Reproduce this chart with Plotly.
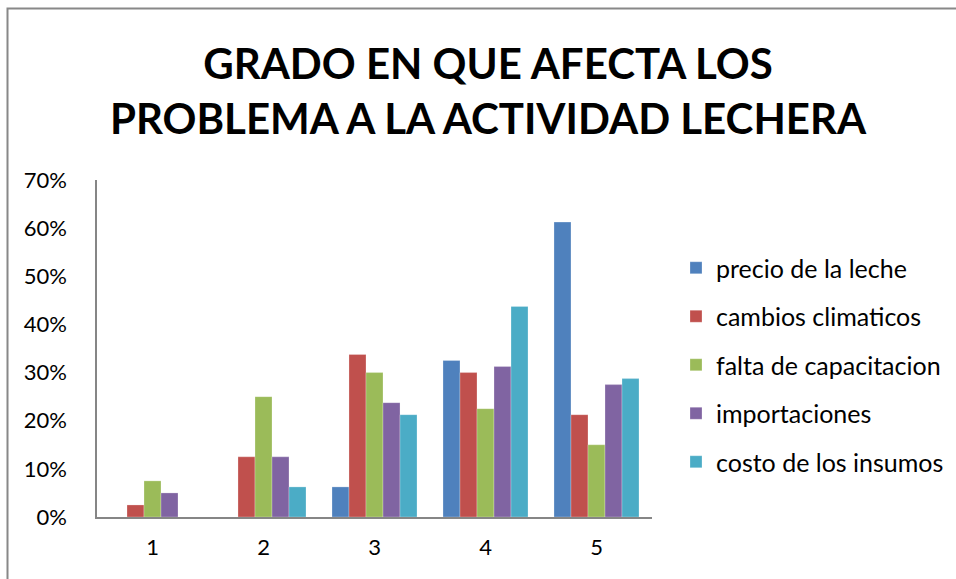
import plotly.graph_objects as go

categories = ["1", "2", "3", "4", "5"]
series_names = ["precio de la leche", "cambios climaticos", "falta de capacitacion",
                "importaciones", "costo de los insumos"]
precio_de_la_leche = [0.0, 0.0, 0.0625, 0.325, 0.6125]
cambios_climaticos = [0.025, 0.125, 0.3375, 0.30, 0.2125]
falta_de_capacitacion = [0.075, 0.25, 0.30, 0.225, 0.15]
importaciones = [0.05, 0.125, 0.2375, 0.3125, 0.275]
costo_de_los_insumos = [0.0, 0.0625, 0.2125, 0.4375, 0.2875]
colors = ["#4F81BD", "#C0504D", "#9BBB59", "#8064A2", "#4BACC6"]
y_ticks = [0, 0.1, 0.2, 0.3, 0.4, 0.5, 0.6, 0.7]
y_tick_labels = ["0%", "10%", "20%", "30%", "40%", "50%", "60%", "70%"]

values = [precio_de_la_leche, cambios_climaticos, falta_de_capacitacion,
          importaciones, costo_de_los_insumos]

FONT = "Lato"
fig = go.Figure()
for name, vals, col in zip(series_names, values, colors):
    fig.add_trace(go.Bar(
        x=categories, y=vals, name=name, legendgroup=name,
        marker=dict(color=col, line=dict(color="rgba(255,255,255,0.5)", width=0.5)),
    ))

fig.update_layout(
    width=956, height=579,
    margin=dict(l=97, r=304, t=180, b=62, autoexpand=False),
    paper_bgcolor="white", plot_bgcolor="white",
    barmode="group", bargap=0.234, bargroupgap=0,
    title=dict(
        text="<b>GRADO EN QUE AFECTA LOS<br>PROBLEMA A LA ACTIVIDAD LECHERA</b>",
        x=488 / 956, xanchor="center", xref="container",
        y=1 - 79 / 579, yanchor="middle", yref="container",
        font=dict(family=FONT, size=42, color="black"),
    ),
    xaxis=dict(
        showgrid=False, showline=True, linecolor="#868686", linewidth=1.5,
        ticks="", tickfont=dict(family=FONT, size=22, color="black"),
        ticklabelstandoff=10, automargin=False,
    ),
    yaxis=dict(
        range=[0, 0.7], tickvals=y_ticks, ticktext=y_tick_labels,
        showgrid=False, showline=True, linecolor="#868686", linewidth=1.5,
        ticks="", zeroline=False,
        tickfont=dict(family=FONT, size=22, color="black"),
        ticklabelstandoff=24, automargin=False,
    ),
    legend=dict(
        x=676 / 956, xref="container", xanchor="left",
        y=1 - 245 / 579, yref="container", yanchor="top",
        font=dict(family=FONT, size=25, color="black"),
        tracegroupgap=13, itemwidth=30,
        bgcolor="rgba(0,0,0,0)",
    ),
    showlegend=True,
    shapes=[dict(type="rect", xref="paper", yref="paper",
                 x0=(7.5 - 97) / 555, x1=(990 - 97) / 555,
                 y0=(517 - 620) / 337, y1=(517 - 8.5) / 337,
                 line=dict(color="#888888", width=2), fillcolor="rgba(0,0,0,0)")],
)

fig.write_html("out.html", config={"displayModeBar": False},
               post_script="document.body.style.margin='0';document.body.style.overflow='hidden';")
